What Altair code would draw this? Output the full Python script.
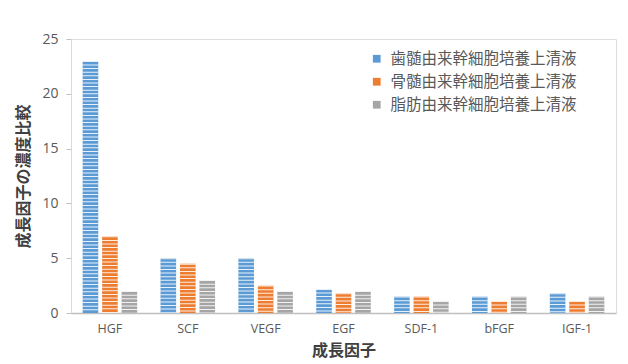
import altair as alt
import pandas as pd

factors = ["HGF", "SCF", "VEGF", "EGF", "SDF-1", "bFGF", "IGF-1"]
series = ["歯髄由来幹細胞培養上清液", "骨髄由来幹細胞培養上清液", "脂肪由来幹細胞培養上清液"]
dental = [23.0, 5.0, 5.0, 2.2, 1.5, 1.5, 1.8]
marrow = [7.0, 4.5, 2.5, 1.8, 1.5, 1.1, 1.1]
adipose = [2.0, 3.0, 2.0, 2.0, 1.1, 1.5, 1.5]
colors = ["#5B9BD5", "#ED7D31", "#A5A5A5"]

rows = []
for s, vals in zip(series, [dental, marrow, adipose]):
    for f, v in zip(factors, vals):
        rows.append({"factor": f, "series": s, "value": v, "zero": 0})
df = pd.DataFrame(rows)

FONT = "Noto Sans CJK JP"
LATIN = "Open Sans"
xs = alt.Scale(domain=factors, paddingInner=0.3, paddingOuter=0.15)
xo = alt.Scale(domain=series, paddingInner=0.2, paddingOuter=0)
ys = alt.Scale(domain=[0, 25])

base = alt.Chart(df)
bars = base.mark_bar().encode(
    x=alt.X("factor:N", scale=xs, sort=factors,
            axis=alt.Axis(title="成長因子", labelAngle=0, ticks=False, labelPadding=9,
                          labelFont=LATIN, titleFontWeight="bold", titleFontSize=16, titlePadding=8,
                          titleColor="#404040", labelColor="#595959", labelFontSize=12.5,
                          domainColor="#BFBFBF", domainWidth=1.5)),
    xOffset=alt.XOffset("series:N", scale=xo, sort=series),
    y=alt.Y("value:Q", scale=ys,
            axis=alt.Axis(title="成長因子の濃度比較", values=[0, 5, 10, 15, 20, 25], grid=False,
                          tickSize=5, tickColor="#BFBFBF", labelPadding=8, domainColor="#D9D9D9",
                          labelFont=LATIN, titleFontWeight="bold", titleFontSize=16, titleColor="#404040",
                          labelColor="#595959", labelFontSize=14, titlePadding=10)),
    color=alt.Color("series:N", sort=series, scale=alt.Scale(domain=series, range=colors),
                    legend=alt.Legend(title=None, orient="none", legendX=298, legendY=12,
                                      symbolType="square", symbolSize=60, labelFontSize=15.5,
                                      labelLimit=400, labelOffset=6,
                                      labelColor="#595959", rowPadding=6, symbolStrokeWidth=0)),
)

stripes = base.mark_rule(color="white", strokeWidth=16, strokeDash=[1, 2.6], opacity=0.85).encode(
    x=alt.X("factor:N", scale=xs, sort=factors),
    xOffset=alt.XOffset("series:N", scale=xo, sort=series),
    y=alt.Y("value:Q", scale=ys),
    y2="zero:Q",
)

chart = alt.layer(bars, stripes).properties(
    width=545, height=274,
    autosize=alt.AutoSizeParams(type="none"),
    padding={"left": 63, "top": 31, "right": 4, "bottom": 50},
).configure_view(stroke=None).configure(font=FONT)

chart.save("out.html", embed_options={"renderer": "svg", "actions": False})
